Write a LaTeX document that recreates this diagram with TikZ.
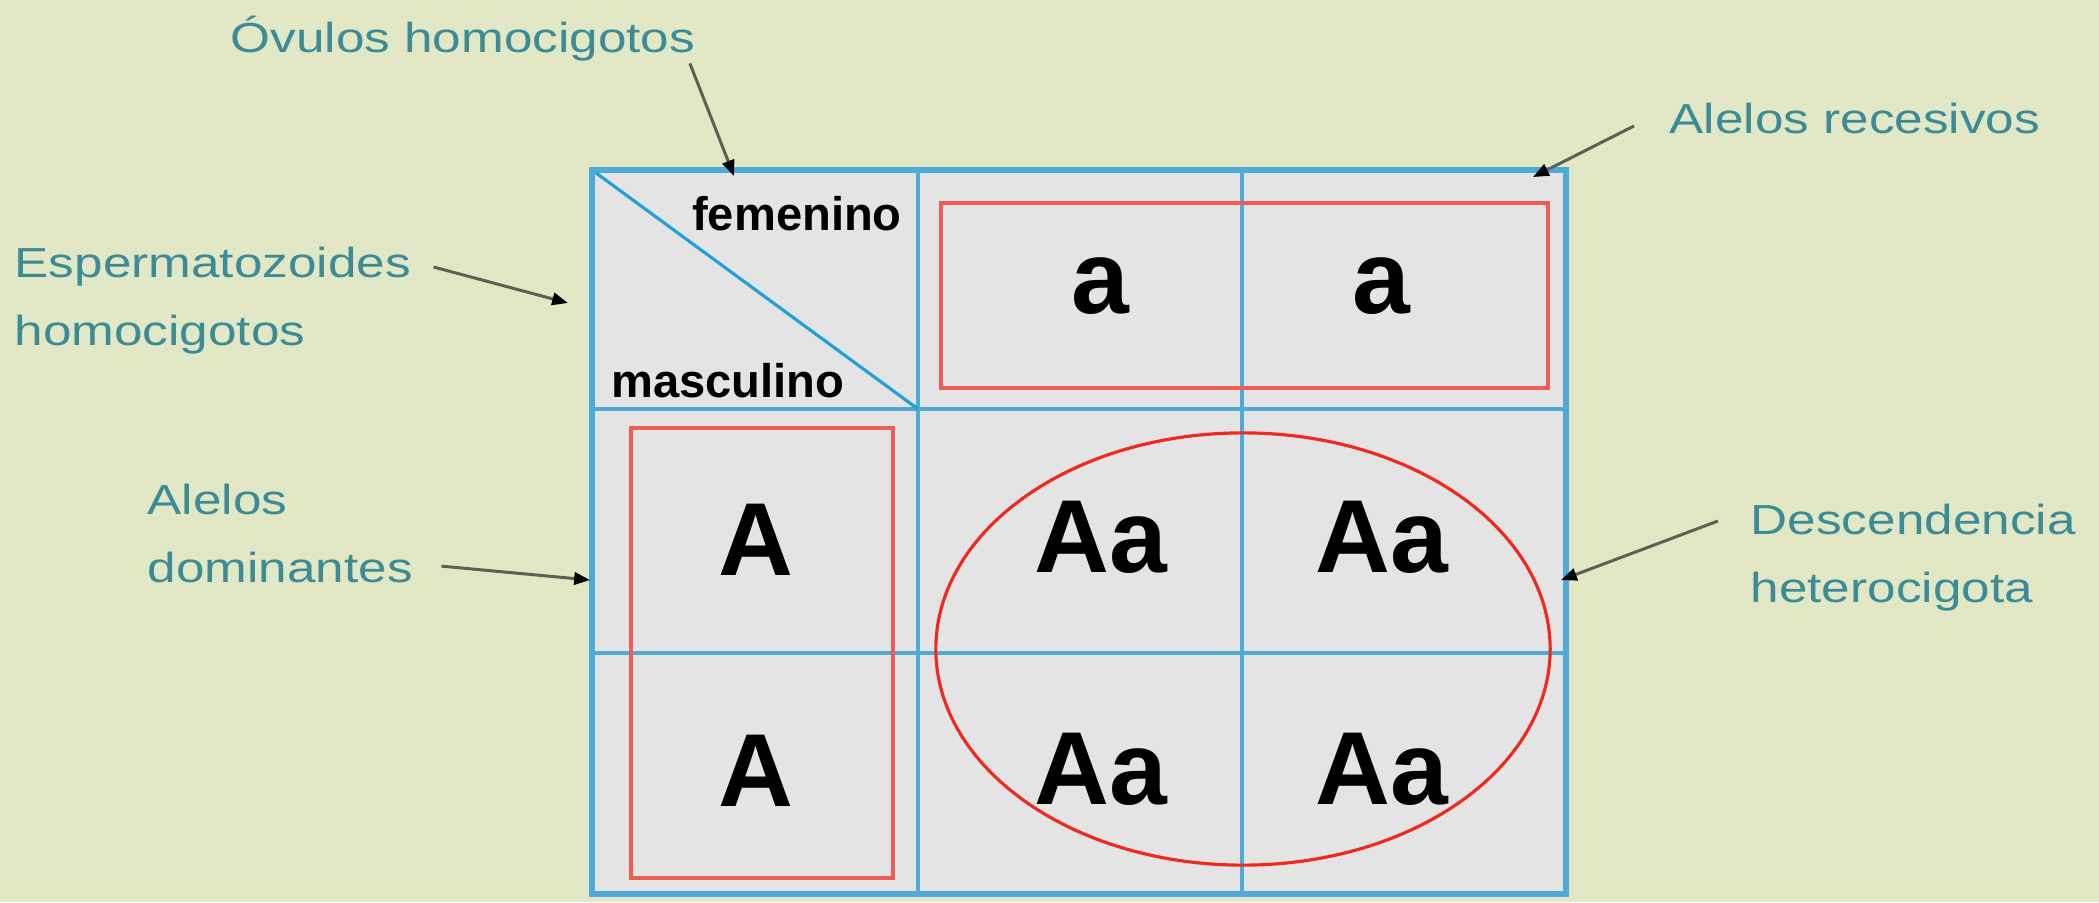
\documentclass[tikz,border=0pt]{standalone}
\usepackage{fontspec}
\setmainfont{Liberation Sans}
\newfontfamily\notefont[FakeStretch=1.22]{Liberation Sans}
\usetikzlibrary{arrows.meta}

\definecolor{bgcol}{RGB}{226,232,197}
\definecolor{cellgray}{RGB}{228,228,228}
\definecolor{gridblue}{RGB}{80,170,215}
\definecolor{diagblue}{RGB}{35,160,215}
\definecolor{boxred}{RGB}{238,92,82}
\definecolor{ringred}{RGB}{240,40,30}
\definecolor{noteteal}{RGB}{60,140,152}
\definecolor{arrgray}{RGB}{95,95,85}

\begin{document}
\begin{tikzpicture}[x=0.01cm,y=-0.01cm,
note/.style={font=\notefont\fontsize{11.95}{19.3}\selectfont,text=noteteal,align=left,inner sep=0pt,anchor=base west},
sexlbl/.style={font=\bfseries\fontsize{13.4}{16}\selectfont,inner sep=0pt,anchor=base},
gene/.style={font=\bfseries\fontsize{29.5}{32}\selectfont,inner sep=0pt,anchor=base},
rule/.style={gridblue,line width=1.3pt},
redbox/.style={boxred,line width=1.4pt},
arr/.style={arrgray,line width=0.85pt,-{Triangle[length=4.5pt,width=3.5pt,color=black]}}]
\fill[bgcol] (0,0) rectangle (2099,902);
\useasboundingbox (0,0) rectangle (2099,902);
% cuadro de Punnett
\fill[cellgray] (592,170) rectangle (1566,894);
\draw[rule] (918,170)--(918,894) (1242,170)--(1242,894) (592,409)--(1566,409) (592,653)--(1566,653);
\draw[diagblue,line width=0.9pt] (592,170)--(918,409);
\draw[rule,line width=1.5pt] (592,170) rectangle (1566,894);
\node[sexlbl] (fem) at (797,230) {femenino};
\node[sexlbl] (masc) at (728,397) {masculino};
\node[gene] (ar1) at (1100,313) {a};
\node[gene] (ar2) at (1381,313) {a};
\node[gene] (ad1) at (756,575) {A};
\node[gene] (ad2) at (756,806) {A};
\node[gene] (h11) at (1101,572) {Aa};
\node[gene] (h12) at (1382,572) {Aa};
\node[gene] (h21) at (1101,804) {Aa};
\node[gene] (h22) at (1382,804) {Aa};
\draw[redbox] (941,203) rectangle (1548,388);
\draw[redbox] (631,428) rectangle (893,878);
\draw[ringred,line width=0.9pt] (1243,649) ellipse [x radius=3.07cm,y radius=2.16cm];
% notas
\node[note] (ovul) at (230,52) {Óvulos homocigotos};
\node[note] (esperm) at (14,345) {Espermatozoides\\homocigotos};
\node[note] (domin) at (147,582) {Alelos\\dominantes};
\node[note] (reces) at (1669,133) {Alelos recesivos};
\node[note] (descend) at (1750,602) {Descendencia\\heterocigota};
\coordinate (ovulT) at (734,176);
\coordinate (espermT) at (568,303);
\coordinate (dominT) at (590,580);
\coordinate (recesT) at (1533,177);
\coordinate (descT) at (1561,580);
\draw[arr] ([shift={(-6,2)}]ovul.south east)--(ovulT);
\draw[arr] ([shift={(22,21)}]esperm.north east)--(espermT);
\draw[arr] ([shift={(28,-17)}]domin.south east)--(dominT);
\draw[arr] ([shift={(-35,8)}]reces.west)--(recesT);
\draw[arr] ([shift={(-32,18)}]descend.north west)--(descT);
\end{tikzpicture}
\end{document}
